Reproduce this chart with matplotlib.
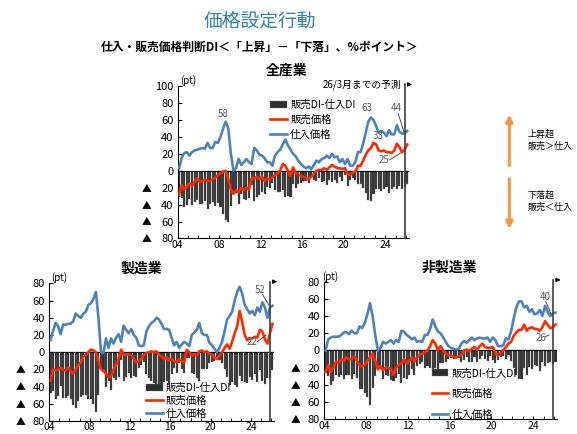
import matplotlib
matplotlib.use("Agg")
import matplotlib.pyplot as plt
from matplotlib.ticker import FuncFormatter, MultipleLocator
import numpy as np

plt.rcParams['font.family'] = ['Noto Sans CJK JP', 'DejaVu Sans']

# quarterly, 2004Q1 .. 2026Q1 (last point = forecast)
all_buy = [3, 15, 21, 22, 18, 22, 24, 25, 26, 27, 26, 33, 27, 27, 34, 33,
           40, 50, 58, 50, 20, 0, 3, 14, 7, 10, 14, 10, 8, 27, 24, 19,
           18, 15, 10, 10, 6, 18, 22, 25, 31, 37, 30, 25, 20, 17, 12, 8,
           5, 3, 5, 2, 7, 12, 10, 14, 15, 18, 15, 20, 16, 17, 10, 14,
           8, 14, 6, 6, 10, 22, 22, 32, 45, 58, 63, 60, 53, 45, 47, 45,
           41, 48, 43, 43, 54, 46, 44, 44, 47]
all_sell = [-28, -17, -22, -19, -15, -18, -13, -9, -13, -12, -10, -12, -12, -10, -8, -5,
            -3, -1, 0, -10, -22, -27, -23, -25, -20, -23, -20, -22, -9, -9, -7, -10,
            -7, -12, -9, -10, -8, -5, -3, 0, 8, 6, 0, -6, 4, -3, -4, -6,
            -7, -9, -10, -7, -4, 0, 1, 1, 3, 1, 4, 7, 5, 3, 3, 2,
            3, -4, -5, -2, -1, 6, 6, 12, 19, 24, 27, 33, 31, 24, 23, 24,
            22, 22, 21, 24, 32, 28, 22, 25, 31]

mfg_buy = [14, 25, 34, 30, 21, 32, 32, 33, 33, 36, 45, 42, 40, 45, 47, 55,
           57, 62, 70, 40, 0, -1, 16, 5, 16, 10, 17, 21, 12, 31, 26, 22,
           27, 20, 17, 8, 7, 8, 24, 30, 34, 36, 40, 38, 33, 27, 27, 26,
           17, 8, 12, 5, 9, 12, 10, 7, 20, 23, 26, 34, 22, 20, 20, 11,
           8, 4, 0, 5, 12, 24, 38, 42, 47, 60, 70, 76, 68, 55, 50, 45,
           48, 43, 52, 47, 58, 52, 40, 52, 54]
mfg_sell = [-33, -20, -21, -21, -18, -21, -21, -18, -22, -25, -20, -15, -12, -5, -3, 0,
            3, 2, 0, -10, -20, -22, -25, -29, -28, -20, -15, -8, 3, -3, -3, -2,
            -3, -8, -12, -10, -8, -3, -1, 0, 1, 0, 1, -3, -5, -8, -6, -10,
            -8, -10, -12, -8, -10, -12, 3, 0, -4, -2, -4, 1, 2, 0, 1, -2,
            -3, -6, -8, -4, 0, 5, 9, 4, 12, 22, 30, 48, 35, 20, 14, 16,
            16, 18, 17, 26, 24, 15, 10, 22, 33]

nonmfg_buy = [0, 13, 15, 16, 16, 16, 18, 21, 21, 19, 23, 20, 20, 28, 26, 32,
              42, 55, 40, 18, 0, 3, 10, 8, 10, 12, 8, 12, 10, 23, 22, 18,
              16, 13, 15, 10, 11, 10, 18, 18, 25, 36, 28, 22, 20, 15, 10, 5,
              3, 2, 1, 2, 8, 11, 9, 12, 15, 12, 14, 15, 14, 14, 15, 10,
              15, 12, 5, 5, 6, 14, 13, 22, 37, 50, 57, 57, 50, 52, 45, 48,
              42, 43, 47, 40, 52, 45, 40, 43, 44]
nonmfg_sell = [-25, -17, -25, -20, -13, -15, -10, -12, -8, -10, -10, -7, -12, -17, -19, -17,
               -12, -8, -4, -12, -22, -18, -23, -20, -20, -22, -28, -20, -17, -15, -10, -15,
               -12, -8, -13, -8, -5, -4, -2, 0, 5, 12, 8, 0, 5, 0, -4, -5,
               -6, -8, -8, -7, -5, 0, 1, -1, 2, 4, 1, 5, 8, 4, 3, 3,
               4, -3, -6, -3, 0, 4, 8, 10, 17, 21, 24, 24, 30, 23, 26, 27,
               25, 25, 23, 27, 34, 30, 26, 27, 30]

year_ticks = [2004, 2008, 2012, 2016, 2020, 2024]
year_labels = ['04', '08', '12', '16', '20', '24']

RED = '#FF2A00'
BLUE = '#4F81BD'
BAR = '#2e2e2e'
NOTE = '#595959'
LAST_ACTUAL = 2025.875


def draw_panel(ax, sell, buy, ymax, title, title_xy, tri_x, pt_x, legend_box, legend_space, notes):
    sell = np.array(sell, dtype=float)
    buy = np.array(buy, dtype=float)
    t = 2004 + 0.125 + 0.25 * np.arange(len(sell))

    b = ax.bar(t, sell - buy, width=0.2, color=BAR, edgecolor='#7a7a7a', linewidth=0.25,
               label='販売DI-仕入DI', zorder=2)
    l1, = ax.plot(t, sell, color=RED, lw=1.9, label='販売価格', zorder=3)
    l2, = ax.plot(t, buy, color=BLUE, lw=1.9, label='仕入価格', zorder=3)
    ax.axhline(0, color='black', lw=0.8, zorder=2.5)

    ax.set_xlim(2004, 2026.25)
    ax.set_ylim(-80, ymax)
    ax.yaxis.set_major_locator(MultipleLocator(20))
    ax.yaxis.set_major_formatter(FuncFormatter(lambda v, p: f"{abs(v):.0f}"))
    ax.set_xticks(year_ticks)
    ax.set_xticklabels(year_labels)
    ax.xaxis.set_minor_locator(MultipleLocator(1))
    ax.tick_params(axis='y', direction='in', length=3, labelsize=8, pad=3)
    ax.tick_params(axis='x', which='both', direction='in', length=2, labelsize=7.5, pad=1)
    for s in ('top', 'right'):
        ax.spines[s].set_visible(False)

    # negative values are written with a triangle
    for v in range(-20, -81, -20):
        ax.text(tri_x, v, '▲', transform=ax.get_yaxis_transform(), fontsize=7,
                ha='center', va='center')

    ax.text(pt_x, 1.0, '(pt)', transform=ax.transAxes, fontsize=7, va='bottom')
    ax.text(title_xy[0], title_xy[1], title, transform=ax.transAxes, fontsize=10,
            fontweight='bold', ha='center', va='center')

    # actual / forecast divider with arrow
    top = ymax + 2
    ax.plot([LAST_ACTUAL, LAST_ACTUAL], [-80, top], color='#404040', lw=1.2, clip_on=False, zorder=4)
    ax.annotate('', xy=(LAST_ACTUAL + 1.0, top), xytext=(LAST_ACTUAL, top),
                arrowprops=dict(arrowstyle='-|>', color='black', lw=0.8, mutation_scale=6),
                annotation_clip=False)

    for txt, pos, tip in notes:
        ax.text(pos[0], pos[1], txt, fontsize=7, color=NOTE, ha='center', va='center')
        if tip is not None:
            ax.plot([tip[0][0], tip[1][0]], [tip[0][1], tip[1][1]], color='#333333', lw=0.6, zorder=5)

    ax.legend([b, l1, l2], ['販売DI-仕入DI', '販売価格', '仕入価格'],
              loc='lower left', bbox_to_anchor=legend_box, frameon=False, fontsize=7.5,
              handlelength=1.6, handletextpad=0.3, labelspacing=legend_space, borderpad=0.2)


fig = plt.figure(figsize=(5.77, 4.34), dpi=100)

fig.text(0.45, 0.952, '価格設定行動', fontsize=13.5, color='#31849B', ha='center', va='center')
fig.text(0.45, 0.890, '仕入・販売価格判断DI＜「上昇」－「下落」、%ポイント＞', fontsize=8.5,
         fontweight='bold', ha='center', va='center')

ax1 = fig.add_axes([0.308, 0.4505, 0.400, 0.351])
draw_panel(ax1, all_sell, all_buy, 100, '全産業', (0.47, 1.098), -0.133, 0.01, (0.37, 0.60), 0.45,
           [('58', (2008.4, 67), None),
            ('63', (2022.2, 74), None),
            ('33', (2023.3, 41), None),
            ('44', (2025.05, 74), ((2025.25, 68), (2025.8, 46))),
            ('25', (2023.9, 13), ((2024.45, 13), (2025.5, 21)))])
ax1.text(2025.6, 101.5, '26/3月までの予測', fontsize=7, ha='right', va='center', clip_on=False)

ax2 = fig.add_axes([0.0854, 0.03, 0.389, 0.317])
draw_panel(ax2, mfg_sell, mfg_buy, 80, '製造業', (0.41, 1.11), -0.127, 0.01, (0.40, -0.035), 0.25,
           [('52', (2024.9, 72), ((2025.15, 67), (2025.75, 55))),
            ('22', (2024.1, 12), ((2024.6, 12), (2025.5, 20)))])

ax3 = fig.add_axes([0.562, 0.034, 0.403, 0.317])
draw_panel(ax3, nonmfg_sell, nonmfg_buy, 80, '非製造業', (0.54, 1.10), -0.122, -0.01, (0.43, -0.055), 1.0,
           [('40', (2025.1, 62), ((2025.2, 57), (2025.7, 42))),
            ('26', (2024.7, 15), ((2025.15, 16), (2025.5, 18)))])

# orange direction arrows at right of the top panel
ORANGE = '#F79646'
fig.add_artist(matplotlib.patches.FancyArrowPatch((0.8827, 0.6122), (0.8827, 0.7426),
               transform=fig.transFigure, arrowstyle='-|>', mutation_scale=10,
               color=ORANGE, lw=2.2))
fig.add_artist(matplotlib.patches.FancyArrowPatch((0.8827, 0.5945), (0.8827, 0.4661),
               transform=fig.transFigure, arrowstyle='-|>', mutation_scale=10,
               color=ORANGE, lw=2.2))
fig.text(0.914, 0.678, '上昇超\n販売＞仕入', fontsize=6.5, ha='left', va='center', linespacing=1.4)
fig.text(0.914, 0.537, '下落超\n販売＜仕入', fontsize=6.5, ha='left', va='center', linespacing=1.4)

fig.savefig('out.png', dpi=100)
